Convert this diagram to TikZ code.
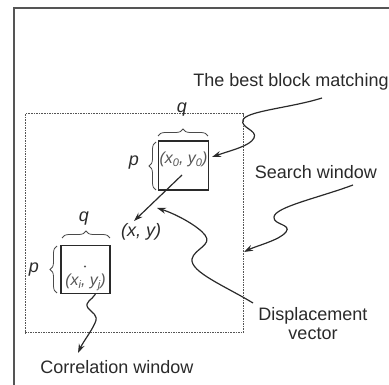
\documentclass[tikz,border=0pt]{standalone}
\usepackage{fontspec}
\setmainfont{Liberation Sans}
\usetikzlibrary{arrows.meta,decorations.pathreplacing}
\definecolor{ink}{HTML}{2A2A2A}
\definecolor{boxtext}{HTML}{555555}
\definecolor{framegray}{HTML}{555555}
\begin{document}
\begin{tikzpicture}[x=1pt,y=-1pt,
  lbl/.style={text=ink,inner sep=0pt,font=\fontsize{18}{19}\selectfont},
  mathlbl/.style={text=ink,inner sep=0pt,font=\fontsize{18}{19}\selectfont\itshape},
  boxlbl/.style={text=boxtext,inner sep=0pt,font=\fontsize{16}{17}\selectfont\itshape},
  blockbox/.style={draw=ink,line width=1.1pt,minimum width=50pt,minimum height=49pt,inner sep=0pt},
  wavy/.style={draw=ink,line width=1.2pt,-{Stealth[length=9pt,width=6pt]}},
  bracestyle/.style={draw=ink!85,line width=0.8pt,decorate,decoration={brace,amplitude=7pt}}]
\useasboundingbox (0,0) rectangle (389,385);
% outer frame
\draw[framegray,line width=1.6pt] (14,395) -- (14,8) -- (400,8);
% search window
\node[draw=ink!80,line width=1pt,dash pattern=on 1.6pt off 1pt,minimum width=218pt,minimum height=219pt,inner sep=0pt] (search) at (134,223.5) {};
% blocks
\node[blockbox] (best) at (183.5,165.5) {};
\node[blockbox,minimum width=49pt,minimum height=48pt] (corr) at (85.5,269.5) {};
% block texts
\node[boxlbl] (bestxy) at (183.5,159) {(x\raisebox{-0.35ex}{\fontsize{11}{11}\selectfont 0}, y\raisebox{-0.35ex}{\fontsize{11}{11}\selectfont 0})};
\node[boxlbl] (corrxy) at (85.5,282) {(x\raisebox{-0.35ex}{\fontsize{11}{11}\selectfont i}, y\raisebox{-0.35ex}{\fontsize{11}{11}\selectfont j})};
\fill[boxtext] (85,266.5) circle (1.2pt) coordinate (corrdot);
% braces
\draw[bracestyle] (158,136) -- (208,136);
\draw[bracestyle] (156,190) -- (156,142);
\draw[bracestyle] (62,238) -- (110,238);
\draw[bracestyle] (57,293) -- (57,246);
\node[mathlbl] (q1) at (182,110) {q};
\node[mathlbl] (p1) at (134,163) {p};
\node[mathlbl] (q2) at (84,219) {q};
\node[mathlbl] (p2) at (34,270) {p};
% (x,y)
\coordinate (inner) at (182,175);
\coordinate (xy) at (134,221);
\node[mathlbl,anchor=west] (xylbl) at (121,232) {(x, y)};
\draw[wavy] (inner) -- (xy);
% labels
\node[lbl] (bestlbl) at (291,82) {The best block matching};
\node[lbl] (searchlbl) at (316,172) {Search window};
\node[lbl,align=center] (displbl) at (313,324) {Displacement\\vector};
\node[lbl] (corrlbl) at (117,367) {Correlation window};
% wavy connectors
\coordinate (bestfrom) at (322,98);
\coordinate (bestto) at (212,157);
\draw[wavy] (bestfrom) .. controls (290,108) and (246,111) .. (243,120)
  .. controls (240,128) and (258,130) .. (254,138)
  .. controls (250,146) and (232,150) .. (bestto);
\coordinate (searchfrom) at (353,185);
\coordinate (searchto) at (244,252);
\draw[wavy] (searchfrom) .. controls (318,198) and (275,207) .. (274,217)
  .. controls (273,225) and (292,224) .. (286,232)
  .. controls (280,240) and (256,246) .. (searchto);
\coordinate (dispfrom) at (253,303);
\coordinate (dispto) at (157,208);
\draw[wavy] (dispfrom) .. controls (225,286) and (190,272) .. (192,259)
  .. controls (194,249) and (213,245) .. (205,235)
  .. controls (198,226) and (176,214) .. (dispto);
\coordinate (corrto) at (78,353);
\draw[wavy] (corr.south) ++(10,0) coordinate (corrfrom) (corrfrom) .. controls (92,300) and (84,302) .. (88,308)
  .. controls (92,313) and (99,315) .. (95,323)
  .. controls (91,332) and (83,342) .. (corrto);
\end{tikzpicture}
\end{document}
